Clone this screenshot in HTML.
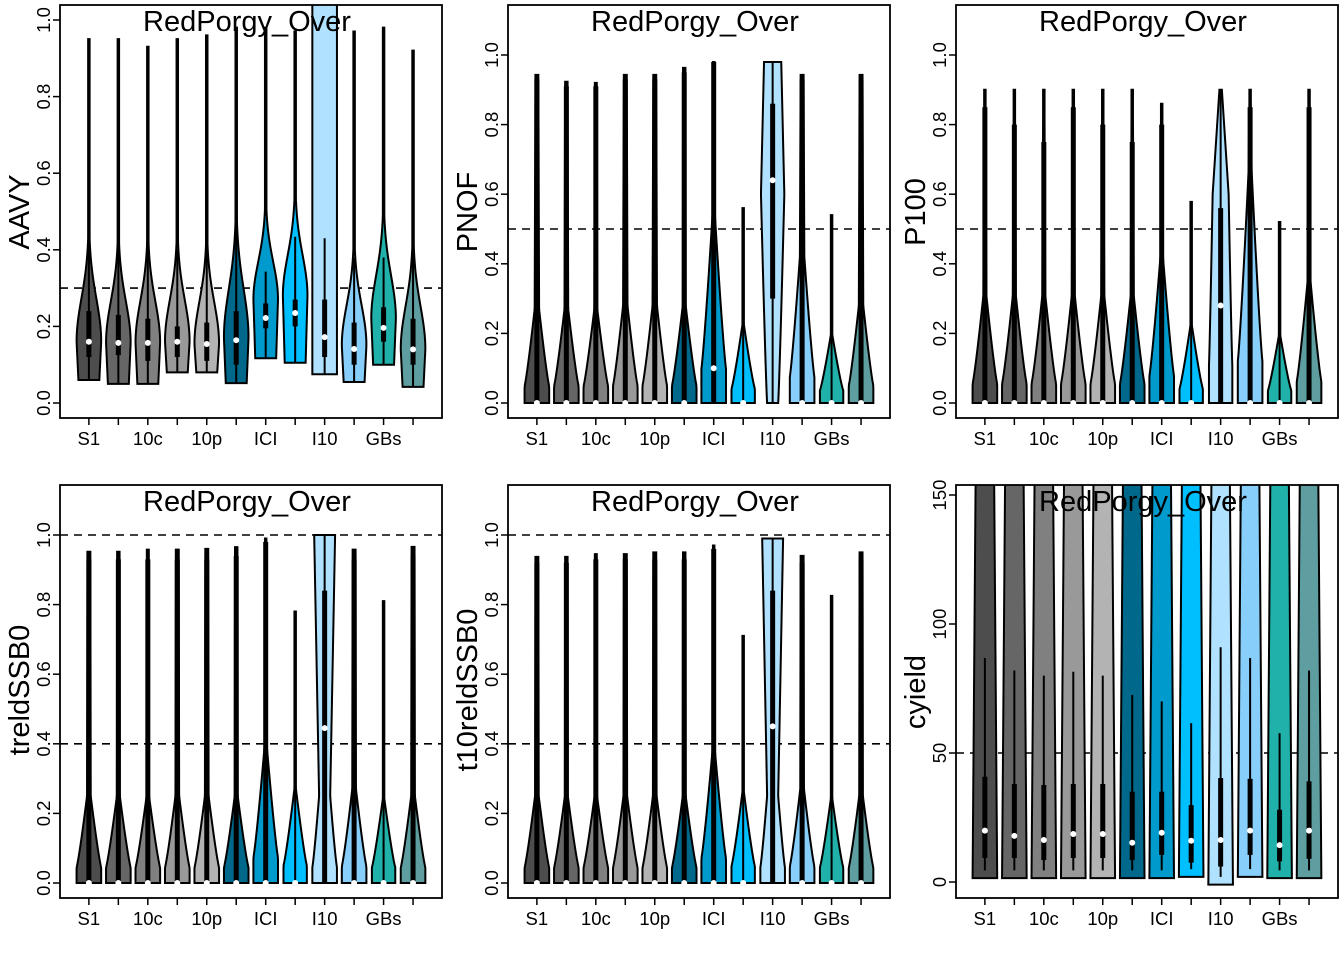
<!DOCTYPE html>
<html><head><meta charset="utf-8"><title>RedPorgy_Over violin plots</title>
<style>html,body{margin:0;padding:0;background:#fff;}svg{display:block;font-family:"Liberation Sans",Arial,sans-serif;}</style>
</head><body>
<svg id="chart" width="1344" height="960" viewBox="0 0 1344 960" xmlns="http://www.w3.org/2000/svg"></svg>
<script>
// ---- shared data ----
const categories = ["S1","S1b","10c","10cb","10p","10pb","ICI","ICIb","I10","I10b","GBs","GBsb"];
const tickLabels = ["S1","","10c","","10p","","ICI","","I10","","GBs",""];
const colors = ["#4d4d4d","#666666","#808080","#999999","#b3b3b3","#00688b","#009acd","#00bfff","#b0e2ff","#87cefa","#20b2aa","#5f9ea0"];

// ---- AAVY ----
const aavyLo = [0.06,0.05,0.05,0.08,0.08,0.052,0.117,0.105,0.075,0.055,0.10,0.042];
const aavyHi = [0.95,0.95,0.93,0.95,0.96,0.98,0.98,0.97,1.2,0.97,0.98,0.92];
const aavyMode = [0.16,0.157,0.157,0.16,0.154,0.17,0.27,0.28,0.075,0.15,0.22,0.14];
const aavySpread = [0.16,0.155,0.155,0.155,0.155,0.18,0.14,0.15,100,0.15,0.16,0.16];
const aavyMed = [0.16,0.157,0.157,0.16,0.154,0.164,0.222,0.235,0.172,0.141,0.196,0.14];
const aavyQ1 = [0.12,0.125,0.11,0.12,0.11,0.10,0.195,0.20,0.12,0.10,0.16,0.10];
const aavyQ3 = [0.24,0.23,0.22,0.20,0.21,0.24,0.26,0.27,0.27,0.21,0.25,0.22];
const aavyWhi = [0.42,0.40,0.40,0.40,0.40,0.45,0.343,0.434,0.43,0.38,0.38,0.40];

// ---- PNOF ----
const pnofHi = [0.943,0.923,0.92,0.943,0.943,0.963,0.98,0.56,0.98,0.943,0.54,0.943];
const pnofMed = [0,0,0,0,0,0,0.10,0,0.64,0,0,0];
const pnofQ1 = [0,0,0,0,0,0,0,0,0.30,0,0,0];
const pnofQ3 = [0.93,0.91,0.91,0.93,0.93,0.95,0.98,0,0.86,0.93,0,0.93];
const pnofTaper = [0.27,0.27,0.27,0.28,0.28,0.28,0.55,0.23,0.6,0.42,0.2,0.28];
const pnofBw = [1,1,1,1,1,1,1,0.95,0.45,1,0.95,1];
const pnofThin = [0.18,0.15,0.12,0.18,0.18,0.12,0.08,0.04,0.95,0.18,0.04,0.18];
const pnofTopw = [0.12,0.1,0.08,0.12,0.12,0.1,0.05,0.03,0.7,0.12,0.03,0.12];

// ---- P100 ----
const p100Hi = [0.9,0.9,0.9,0.9,0.9,0.9,0.86,0.578,0.9,0.9,0.52,0.9];
const p100Med = [0,0,0,0,0,0,0,0,0.28,0,0,0];
const p100Q1 = [0,0,0,0,0,0,0,0,0,0,0,0];
const p100Q3 = [0.85,0.8,0.75,0.85,0.8,0.75,0.8,0,0.56,0.85,0,0.85];
const p100Taper = [0.31,0.31,0.31,0.31,0.31,0.31,0.44,0.23,0.6,0.67,0.2,0.35];
const p100Bw = [1,1,1,1,1,1,1,0.95,0.95,1,0.95,1];
const p100Thin = [0.12,0.12,0.12,0.12,0.12,0.12,0.06,0.03,0.65,0.12,0.03,0.12];
const p100Topw = [0.05,0.05,0.05,0.05,0.05,0.05,0.04,0.03,0.1,0.05,0.03,0.05];

// ---- treldSSB0 ----
const trelHi = [0.952,0.952,0.958,0.958,0.96,0.965,0.99,0.78,1.0,0.958,0.81,0.966];
const trelMed = [0,0,0,0,0,0,0,0,0.445,0,0,0];
const trelQ1 = [0,0,0,0,0,0,0,0,0,0,0,0];
const trelQ3 = [0.93,0.93,0.93,0.93,0.93,0.94,0.98,0,0.84,0.93,0,0.94];
const trelTaper = [0.25,0.25,0.25,0.25,0.25,0.25,0.41,0.28,0.25,0.27,0.25,0.25];
const trelBw = [1,1,1,1,1,1,1,0.95,1,1,0.95,1];
const trelThin = [0.15,0.12,0.1,0.15,0.15,0.12,0.05,0.03,0.45,0.15,0.03,0.15];
const trelTopw = [0.12,0.1,0.08,0.12,0.12,0.1,0.04,0.03,0.85,0.12,0.03,0.12];

// ---- t10reldSSB0 ----
const t10Hi = [0.937,0.937,0.945,0.945,0.95,0.95,0.97,0.71,0.99,0.94,0.825,0.95];
const t10Med = [0,0,0,0,0,0,0,0,0.45,0,0,0];
const t10Q1 = [0,0,0,0,0,0,0,0,0,0,0,0];
const t10Q3 = [0.92,0.92,0.93,0.93,0.93,0.93,0.96,0,0.84,0.92,0,0.93];
const t10Taper = [0.25,0.25,0.25,0.25,0.25,0.25,0.4,0.27,0.25,0.27,0.25,0.25];
const t10Bw = [1,1,1,1,1,1,1,0.95,1,1,0.95,1];
const t10Thin = [0.15,0.12,0.1,0.15,0.15,0.12,0.05,0.03,0.45,0.15,0.03,0.15];
const t10Topw = [0.12,0.1,0.08,0.12,0.12,0.1,0.04,0.03,0.85,0.12,0.03,0.12];

// ---- cyield ----
const cyLo = [1.5,1.5,1.5,1.5,1.5,1.5,1.5,2,-1,2,1.5,1.5];
const cyHi = [170,170,170,170,170,170,170,170,170,170,170,170];
const cyMed = [19.9,17.9,16.3,18.6,18.6,15.2,19.1,16,16.3,19.9,14.3,19.9];
const cyQ1 = [9.3,9.3,8.5,9.3,9.3,8.5,10.5,7.5,6,10.5,8,9];
const cyQ3 = [40.8,38,37.6,38,38,35,35,29.8,40.3,40,28,39];
const cyWhi = [86.8,82,80,81.5,80,72.5,70,61.6,91,86.8,57.7,82];

const NS = "http://www.w3.org/2000/svg";
const svg = document.getElementById("chart");
function mk(tag, attrs, parent){const e=document.createElementNS(NS,tag);for(const k in attrs)e.setAttribute(k,attrs[k]);(parent||svg).appendChild(e);return e;}

const BOXW = 382, BOXH = 413, HALFW = 12.3, STEP = 29.47;

const panels = [
  {key:"aavy", x0:60, top:5, y0:403, scale:383, ticks:[0,0.2,0.4,0.6,0.8,1.0], fmt:1, hl:[0.3], title:"AAVY", titleY:212, type:"spindle"},
  {key:"pnof", x0:508, top:5, y0:403, scale:348, ticks:[0,0.2,0.4,0.6,0.8,1.0], fmt:1, hl:[0.5], title:"PNOF", titleY:212, type:"skew",
    hi:pnofHi, med:pnofMed, q1:pnofQ1, q3:pnofQ3, taper:pnofTaper, bw:pnofBw, thin:pnofThin, topw:pnofTopw},
  {key:"p100", x0:956, top:5, y0:403, scale:348, ticks:[0,0.2,0.4,0.6,0.8,1.0], fmt:1, hl:[0.5], title:"P100", titleY:212, type:"skew",
    hi:p100Hi, med:p100Med, q1:p100Q1, q3:p100Q3, taper:p100Taper, bw:p100Bw, thin:p100Thin, topw:p100Topw},
  {key:"trel", x0:60, top:485, y0:883, scale:348, ticks:[0,0.2,0.4,0.6,0.8,1.0], fmt:1, hl:[1.0,0.4], title:"treldSSB0", titleY:690, type:"skew",
    hi:trelHi, med:trelMed, q1:trelQ1, q3:trelQ3, taper:trelTaper, bw:trelBw, thin:trelThin, topw:trelTopw},
  {key:"t10rel", x0:508, top:485, y0:883, scale:348, ticks:[0,0.2,0.4,0.6,0.8,1.0], fmt:1, hl:[1.0,0.4], title:"t10reldSSB0", titleY:690, type:"skew",
    hi:t10Hi, med:t10Med, q1:t10Q1, q3:t10Q3, taper:t10Taper, bw:t10Bw, thin:t10Thin, topw:t10Topw},
  {key:"cyield", x0:956, top:485, y0:882, scale:2.58, ticks:[0,50,100,150], fmt:0, hl:[50], title:"cyield", titleY:692, type:"bar"}
];

const defs = mk("defs",{});
panels.forEach((p,pi)=>{
  const g = mk("g",{});
  
  
  const yv = v => p.y0 - v*p.scale;
  const xs = i => p.x0 + (i + 1 - 0.02)*STEP;
  const cp = mk("clipPath",{id:"clip"+pi},defs);
  mk("rect",{x:p.x0,y:p.top,width:BOXW,height:BOXH},cp);
  const plot = mk("g",{"clip-path":"url(#clip"+pi+")"},g);
  
  

  p.hl.forEach(h=>{
    const l = mk("line",{x1:p.x0,x2:p.x0+BOXW,y1:yv(h),y2:yv(h),stroke:"#000","stroke-width":1.6,"stroke-dasharray":"8,6"},plot);
    
    
  });

  for(let i=0;i<12;i++){
    let lo, hi, med, q1, q3, wlo, whi, f;
    if(p.type==="spindle"){
      lo=aavyLo[i]; hi=aavyHi[i]; med=aavyMed[i]; q1=aavyQ1[i]; q3=aavyQ3[i]; wlo=lo; whi=aavyWhi[i];
      const mode=aavyMode[i], s=aavySpread[i];
      f = v => v<mode ? 0.85+0.15*(v-lo)/Math.max(mode-lo,1e-6) : Math.max(0.06, Math.exp(-Math.pow((v-mode)/s,2)));
    } else if(p.type==="skew"){
      lo=0; hi=p.hi[i]; med=p.med[i]; q1=p.q1[i]; q3=p.q3[i]; wlo=0; whi=hi;
      const t=p.taper[i], b=p.bw[i], th=p.thin[i], tw=p.topw[i];
      const flat = b>=0.9 ? 0.18*t : 0;
      f = v => v<flat ? b : (v<t ? b+(th-b)*Math.pow((v-flat)/(t-flat),0.85) : th+(tw-th)*(v-t)/Math.max(hi-t,1e-6));
    } else {
      lo=cyLo[i]; hi=cyHi[i]; med=cyMed[i]; q1=cyQ1[i]; q3=cyQ3[i]; wlo=lo+3; whi=cyWhi[i];
      f = v => 1 - 0.0016*(v-lo);
    }
    const cx = xs(i), N=90, right=[], left=[];
    for(let k=0;k<=N;k++){
      const v = lo + (hi-lo)*k/N;
      const w = Math.max(0.06, f(v))*HALFW;
      right.push((cx+w).toFixed(2)+","+yv(v).toFixed(2));
      left.unshift((cx-w).toFixed(2)+","+yv(v).toFixed(2));
    }
    const vg = mk("g",{},plot);
    
    
    const poly = mk("polygon",{points:right.concat(left).join(" "),fill:colors[i],stroke:"#000","stroke-width":2,"stroke-linejoin":"miter"},vg);
    
    
    const wl = mk("line",{x1:cx,x2:cx,y1:yv(wlo),y2:yv(whi),stroke:"#000","stroke-width":2},vg);
    
    
    if(q3>q1){
      const br = mk("rect",{x:cx-2.5,y:yv(q3),width:5,height:yv(q1)-yv(q3),fill:"#000"},vg);
      
      
    }
    const md = mk("circle",{cx:cx,cy:yv(med),r:3,fill:"#fff"},vg);
    
    
  }

  const fr = mk("rect",{x:p.x0,y:p.top,width:BOXW,height:BOXH,fill:"none",stroke:"#000","stroke-width":1.8},g);
  
  

  const tt = mk("text",{x:p.x0+BOXW/2-4,y:p.top+26,"text-anchor":"middle","font-size":29,fill:"#000"},g);
  tt.textContent = "RedPorgy_Over";
  
  

  const bottom = p.top+BOXH;
  for(let i=0;i<12;i++){
    const tk = mk("line",{x1:xs(i),x2:xs(i),y1:bottom,y2:bottom+7,stroke:"#000","stroke-width":1.5},g);
    
    
    if(tickLabels[i]){
      const tl = mk("text",{x:xs(i),y:bottom+27,"text-anchor":"middle","font-size":18.5,fill:"#000"},g);
      tl.textContent = tickLabels[i];
      
      
    }
  }
  p.ticks.forEach(t=>{
    const y = yv(t);
    const tk = mk("line",{x1:p.x0-7,x2:p.x0,y1:y,y2:y,stroke:"#000","stroke-width":1.5},g);
    
    
    const tl = mk("text",{x:0,y:0,transform:"translate("+(p.x0-10)+","+y+") rotate(-90)","text-anchor":"middle","font-size":18.5,fill:"#000"},g);
    tl.textContent = p.fmt ? t.toFixed(1) : String(t);
    
    
  });
  const yt = mk("text",{x:0,y:0,transform:"translate("+(p.x0-31)+","+p.titleY+") rotate(-90)","text-anchor":"middle","font-size":29,fill:"#000"},g);
  yt.textContent = p.title;
  
  
});
</script>
</body></html>
